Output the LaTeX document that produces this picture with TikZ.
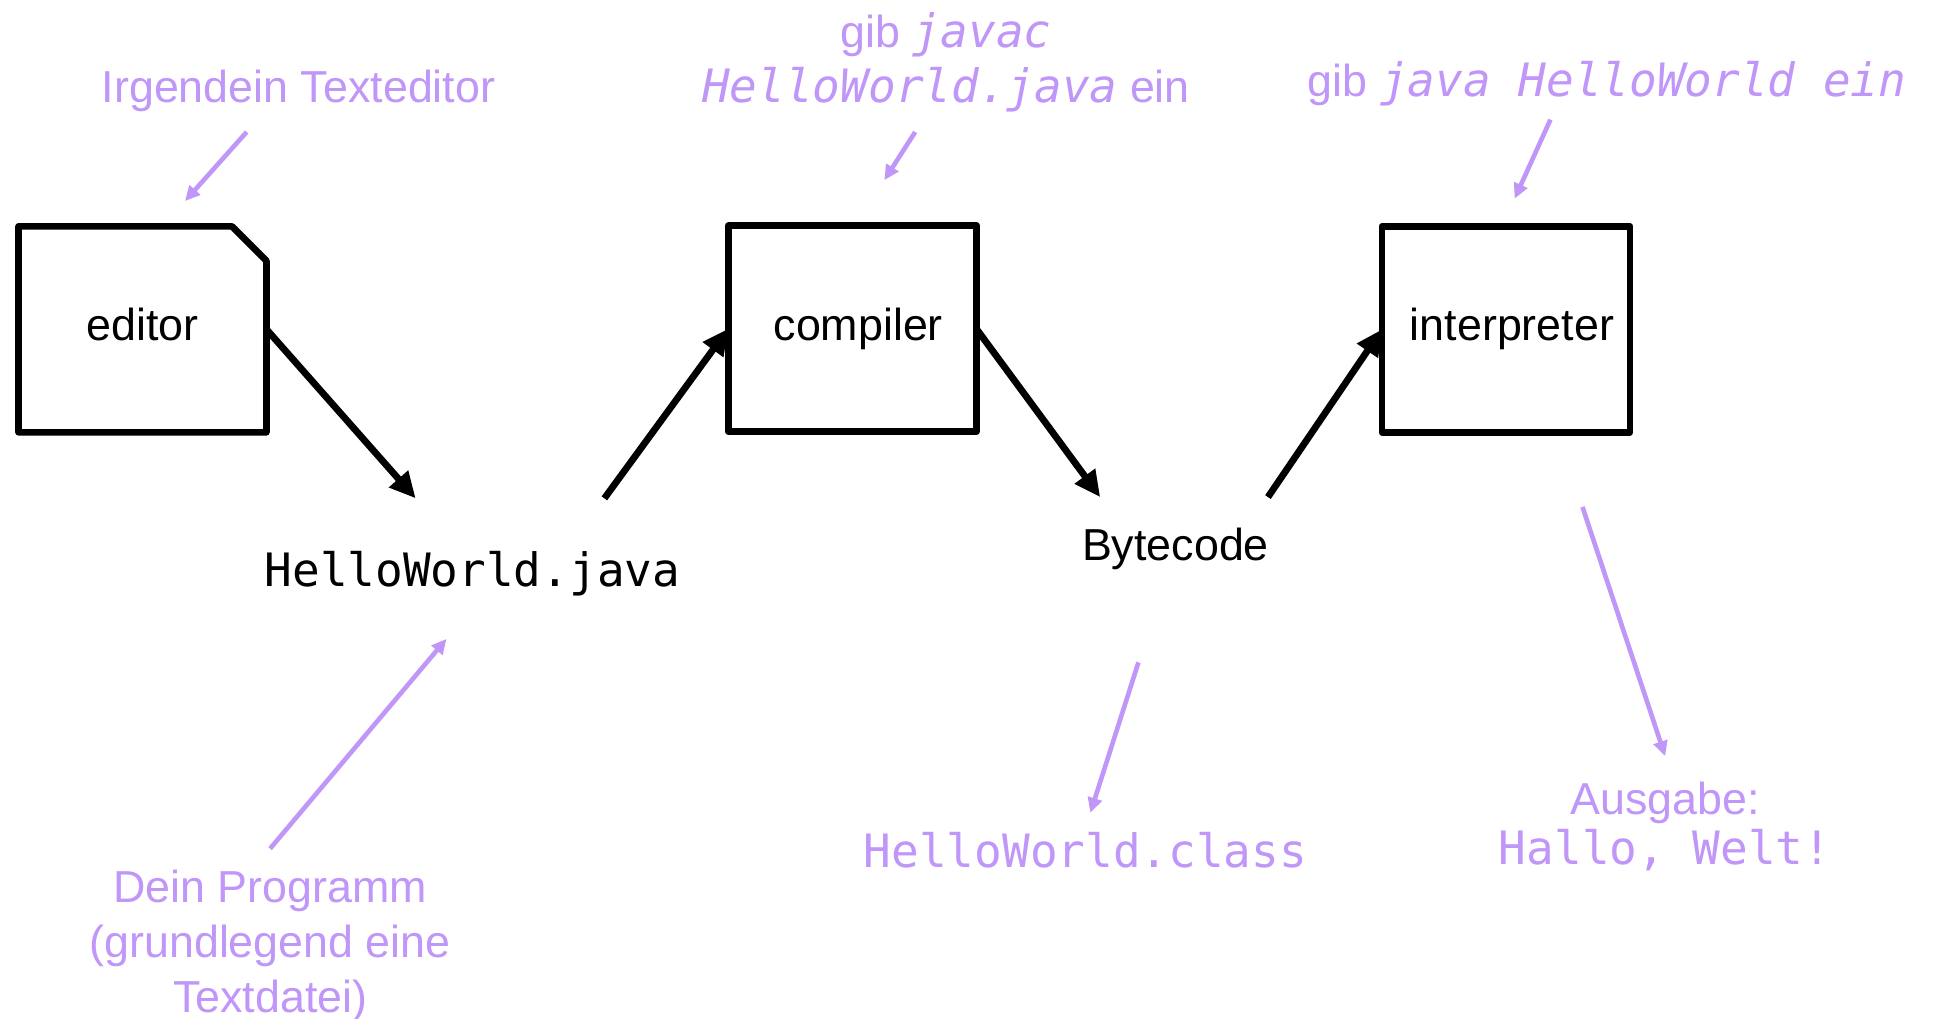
\documentclass[tikz,border=0pt]{standalone}
\usepackage{fontspec}
\setmainfont{Liberation Sans}
\setmonofont{DejaVu Sans Mono}[ItalicFont={DejaVu Sans Mono Oblique}]
\usetikzlibrary{arrows.meta,calc}
\definecolor{annot}{RGB}{192,150,248}
\newcommand{\mysans}{\fontsize{22.4pt}{27.5pt}\selectfont\rmfamily}
\newcommand{\mytt}[1]{{\fontsize{23pt}{27.5pt}\selectfont\ttfamily #1}}
\newcommand{\myitt}[1]{{\fontsize{23pt}{27.5pt}\selectfont\ttfamily\itshape #1}}
\tikzset{
  procbox/.style={draw=black, line width=3.3pt, line join=round, minimum width=124pt, minimum height=103pt, outer sep=0pt, inner sep=0pt, font=\mysans},
  plainbox/.style={draw=none, minimum width=124pt, minimum height=103pt, outer sep=0pt, inner sep=0pt, font=\mysans},
  boxline/.style={draw=black, line width=3.3pt, line join=round},
  flow/.style={draw=black, line width=3.4pt, -{Triangle[length=13pt,width=12pt]}},
  note/.style={draw=annot, line width=2.3pt, -{Triangle[length=7.5pt,width=7pt]}},
  lbl/.style={text=annot, inner sep=0pt, outer sep=0pt, font=\mysans, align=center},
  blk/.style={text=black, inner sep=0pt, outer sep=0pt, font=\mysans, align=center}
}
\begin{document}
\begin{tikzpicture}[x=0.6167pt, y=-0.6167pt]
\useasboundingbox (0,0) rectangle (1568,826);
\fill[white] (0,0) rectangle (1568,826);

% main boxes
\node[plainbox, text depth=5pt] (editor) at (115.5,267) {editor};
\draw[boxline] (editor.south west) -- (editor.north west) -- ($(editor.north east)+(-28,0)$) -- ($(editor.north east)+(0,28)$) -- (editor.south east) -- cycle;
\node[procbox] (compiler) at (691,266.5) {\hspace*{6pt}compiler};
\node[procbox] (interp) at (1221,267) {\hspace*{6pt}interpreter};

% intermediate items
\node[blk, minimum height=75.2pt] (hw) at (383,465) {\mytt{HelloWorld.java}};
\node[blk, minimum height=51.8pt] (bc) at (953,445) {Bytecode};

% main flow
\draw[flow] (editor.east) -- ($(hw.north)+(-46,0)$);
\draw[flow] ($(hw.north)+(107,0)$) -- (compiler.west);
\draw[flow] (compiler.east) -- ($(bc.north)+(-61,0)$);
\draw[flow] ($(bc.north)+(75,0)$) -- (interp.west);

% annotations
\node[lbl] (txed) at (242,74) {Irgendein Texteditor};
\node[lbl] (javac) at (767,50.5) {gib \myitt{javac}\\\myitt{HelloWorld.java} ein};
\node[lbl] (javarun) at (1303,68) {gib \myitt{java HelloWorld ein}};
\node[lbl] (cls) at (880,689) {\mytt{HelloWorld.class}};
\node[lbl] (out) at (1350,670) {Ausgabe:\\[-2.5pt]\mytt{Hallo, Welt!}};
\node[lbl] (prog) at (219,767) {Dein Programm\\(grundlegend eine\\Textdatei)};

\coordinate (a1s) at (200,107); \coordinate (a1e) at (150,163);
\coordinate (a2s) at (742,107); \coordinate (a2e) at (717,146);
\coordinate (a3s) at (1257,97); \coordinate (a3e) at (1228,161);
\coordinate (a4s) at (923,537); \coordinate (a4e) at (884,659);
\coordinate (a5s) at (1283,411); \coordinate (a5e) at (1350,613);
\coordinate (a6s) at (219,688); \coordinate (a6e) at (362,518);

\draw[note] (a1s) -- (a1e);
\draw[note] (a2s) -- (a2e);
\draw[note] (a3s) -- (a3e);
\draw[note] (a4s) -- (a4e);
\draw[note] (a5s) -- (a5e);
\draw[note] (a6s) -- (a6e);
\end{tikzpicture}
\end{document}
